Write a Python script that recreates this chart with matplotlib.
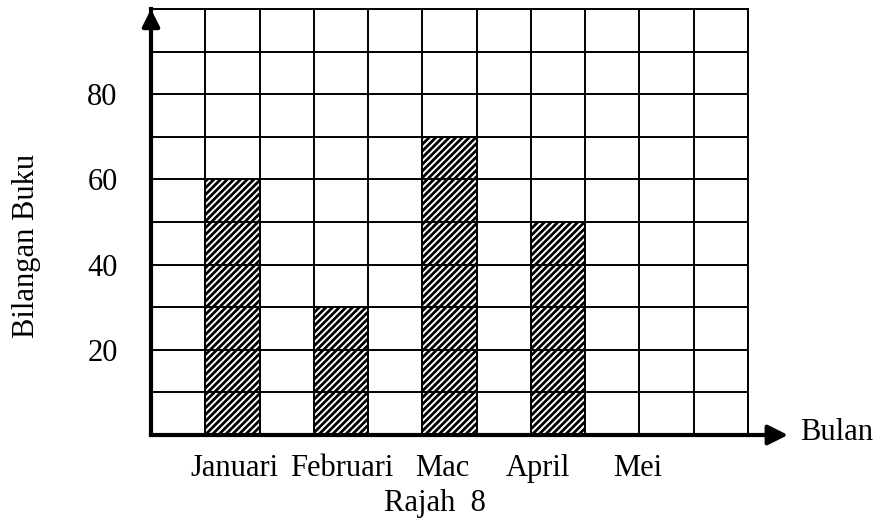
import numpy as np
import matplotlib
matplotlib.use("Agg")
import matplotlib.pyplot as plt

# data
months = ["Januari", "Februari", "Mac", "April", "Mei"]
books = [60, 30, 70, 50, 0]          # Mei left blank in the original
bar_cols = [1, 3, 5, 7, 9]           # grid column where each month's bar sits
label_x = [1.53, 3.52, 5.36, 7.13, 8.97]
y_ticks = [20, 40, 60, 80]

plt.rcParams["font.family"] = ["Liberation Serif", "DejaVu Serif"]
plt.rcParams["font.size"] = 22
plt.rcParams["hatch.linewidth"] = 2.0

fig = plt.figure(figsize=(8.83, 5.25), dpi=100)
ax = fig.add_axes([151 / 883, 1 - 435 / 525, 597 / 883, 426 / 525])
ax.set_xlim(0, 11)
ax.set_ylim(0, 100)

ax.bar(bar_cols, books, width=1, align="edge", color="white",
       edgecolor="black", hatch="/////", linewidth=1.3, zorder=1)

# square grid
ax.set_xticks(np.arange(0, 12), minor=True)
ax.set_yticks(np.arange(0, 101, 10), minor=True)
ax.set_xticks(label_x)
ax.set_xticklabels(months)
ax.set_yticks(y_ticks)
ax.xaxis.grid(which="minor", color="black", linewidth=1.4)
ax.xaxis.grid(which="major", visible=False)
ax.yaxis.grid(which="both", color="black", linewidth=1.4)
ax.set_axisbelow(False)

ax.tick_params(which="both", length=0)
ax.tick_params(axis="y", pad=24)
ax.tick_params(axis="x", pad=14)

for s in ["top", "right"]:
    ax.spines[s].set_linewidth(1.4)
for s in ["left", "bottom"]:
    ax.spines[s].set_linewidth(3)
    ax.spines[s].set_zorder(5)

# axis arrows
ax.annotate("", xy=(1 + 40 / 597, 0), xytext=(1, 0), xycoords="axes fraction",
            arrowprops=dict(arrowstyle="-|>", lw=3, mutation_scale=30, color="black",
                            shrinkA=0, shrinkB=0), annotation_clip=False)
ax.annotate("", xy=(0, 1.0), xytext=(0, 0.95), xycoords="axes fraction",
            arrowprops=dict(arrowstyle="-|>", lw=3, mutation_scale=26, color="black",
                            shrinkA=0, shrinkB=0), annotation_clip=False)

fig.text(800 / 883, 1 - 433 / 525, "Bulan", ha="left", va="center")
fig.text(27 / 883, 1 - 246 / 525, "Bilangan Buku", rotation=90, ha="center", va="center")
fig.text(435 / 883, 1 - 503 / 525, "Rajah  8", ha="center", va="center")

fig.savefig("out.png", dpi=100)
